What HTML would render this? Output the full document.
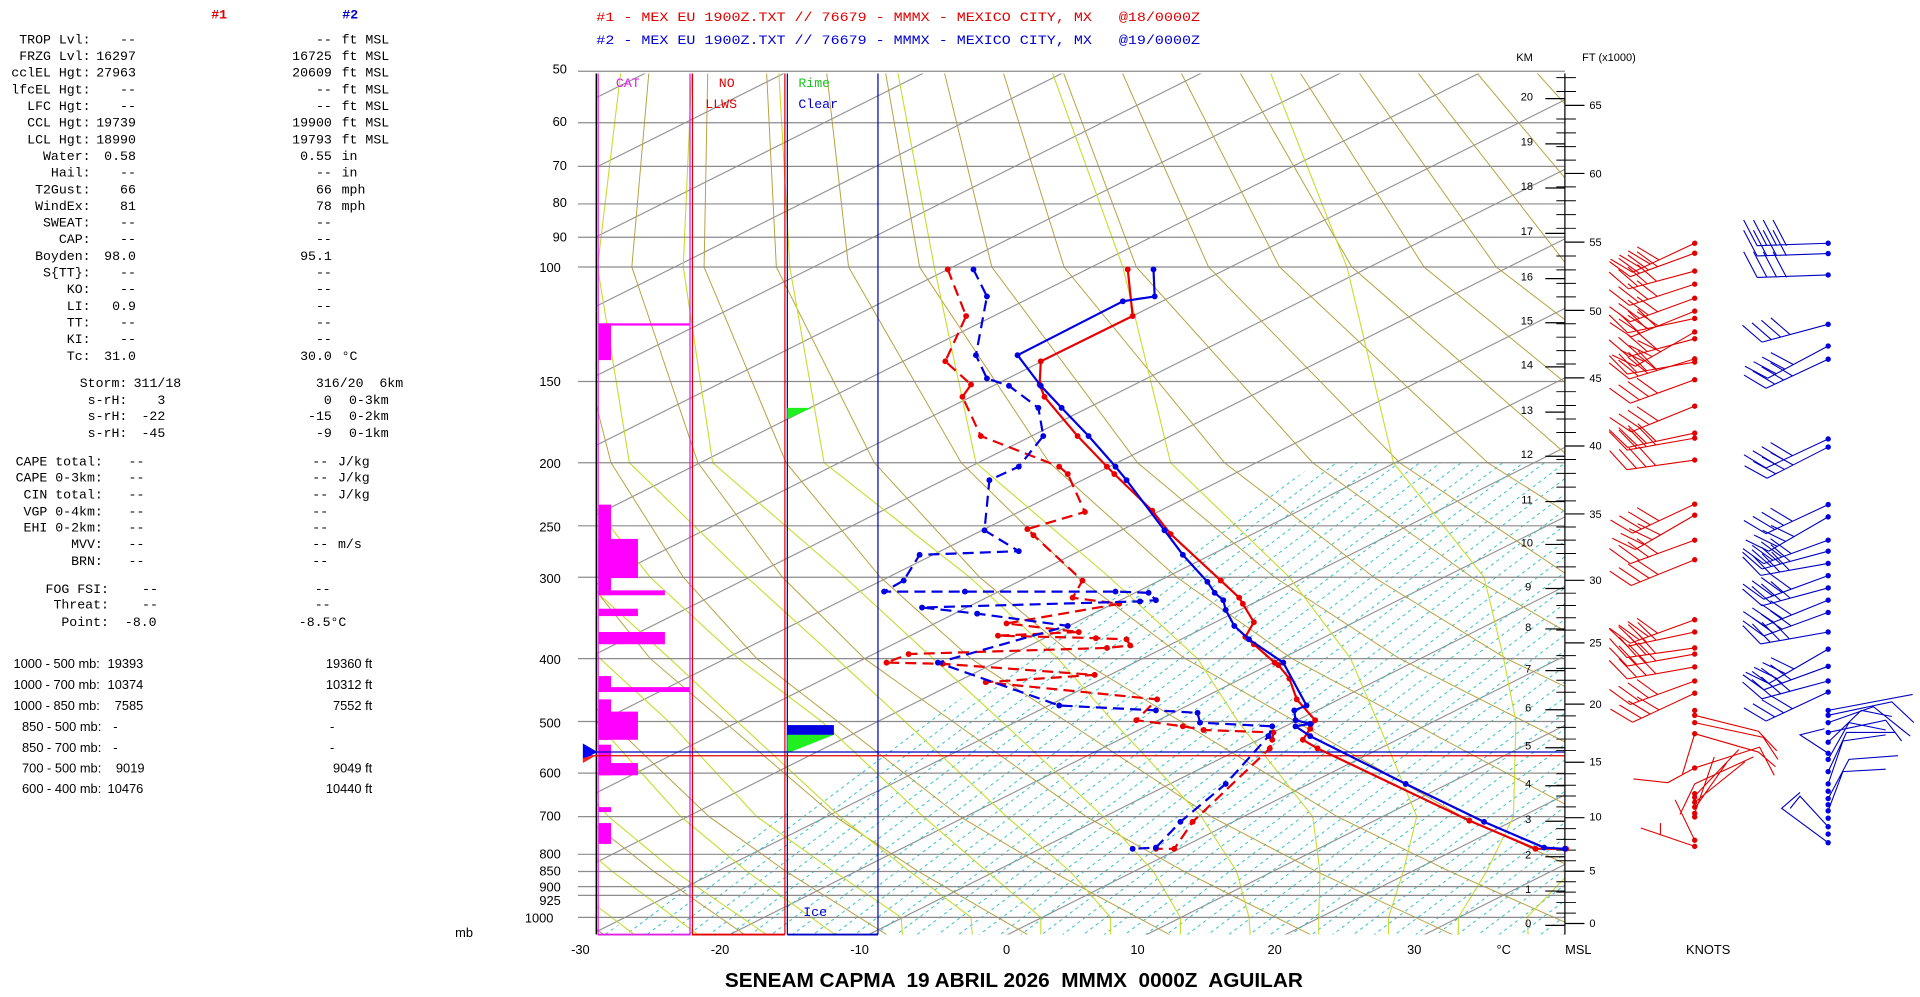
<!DOCTYPE html>
<html><head><meta charset="utf-8"><style>
html,body{margin:0;padding:0;background:#fff;overflow:hidden}
svg{display:block}
.m{font-family:"Liberation Mono",monospace;font-size:10.8px}
.s{font-family:"Liberation Sans",sans-serif;font-size:10.5px}
</style></head><body>
<svg xmlns="http://www.w3.org/2000/svg" width="1920" height="997" viewBox="0 0 1568 814" preserveAspectRatio="none">
<defs>
<clipPath id="cp"><rect x="487" y="60" width="791" height="703"/></clipPath>
<clipPath id="cw"><polygon points="493,763 1076,378 1278,378 1278,763"/></clipPath>
<pattern id="iso" patternUnits="userSpaceOnUse" width="20" height="50.76" patternTransform="translate(822,763) rotate(-26.565)"><rect x="0" y="0" width="20" height="0.9" fill="#8c8c8c"/></pattern>
<pattern id="mix" patternUnits="userSpaceOnUse" width="5.5" height="10.2" patternTransform="translate(935,763) rotate(-36.94)"><rect x="0" y="0" width="2.6" height="0.8" fill="#30c0c8"/></pattern>
<marker id="mr" markerUnits="userSpaceOnUse" markerWidth="6" markerHeight="6" refX="3" refY="3"><circle cx="3" cy="3" r="2.4" fill="#e80000"/></marker>
<marker id="mb" markerUnits="userSpaceOnUse" markerWidth="6" markerHeight="6" refX="3" refY="3"><circle cx="3" cy="3" r="2.4" fill="#0000e0"/></marker>
<g id="rb"><path d="M0,0 L-52.6,19.2 M-52.6,19.2 l-17,-12.3 M-45.1,16.5 l-17,-12.3 M-37.6,13.8 l-17,-12.3 M-30.1,11.1 l-17,-12.3" stroke="#e00000" stroke-width="0.9" fill="none"/><circle r="2.2" fill="#e00000"/></g>
<g id="bs"><path d="M0,0 L-52.6,19.2 M-52.6,19.2 l-17,-12.3 M-45.1,16.5 l-17,-12.3 M-37.6,13.8 l-17,-12.3 M-30.1,11.1 l-17,-12.3" stroke="#0000c0" stroke-width="0.9" fill="none"/><circle r="2.2" fill="#0000e0"/></g>
<g id="bh"><path d="M0,0 L-58,2 M-58,2 l-11,-21 M-50,2 l-11,-21 M-42,2 l-11,-21 M-34,2 l-11,-21" stroke="#0000c0" stroke-width="0.9" fill="none"/><circle r="2.2" fill="#0000e0"/></g>
</defs>
<rect width="1568" height="814" fill="#fff"/>

<g clip-path="url(#cp)">
<rect x="487" y="60" width="791" height="703" fill="url(#iso)"/>
<rect x="487" y="378" width="791" height="385" fill="url(#mix)" clip-path="url(#cw)"/>
<g fill="none" stroke="#b8a040" stroke-width="0.8">
<polyline points="493,763 425,711.5 374,666.7 269,537.7 236,471.3 212,377.8 222,218 289,58.2"/>
<polyline points="608,763 534,711.5 477,666.7 356,537.7 317,471.3 284,377.8 281,218 337,58.2"/>
<polyline points="724,763 642,711.5 579,666.7 444,537.7 397,471.3 355,377.8 340,218 385,58.2"/>
<polyline points="839,763 750,711.5 682,666.7 531,537.7 478,471.3 427,377.8 399,218 434,58.2"/>
<polyline points="955,763 859,711.5 784,666.7 618,537.7 558,471.3 499,377.8 458,218 482,58.2"/>
<polyline points="1070,763 967,711.5 887,666.7 706,537.7 639,471.3 570,377.8 516,218 530,58.2"/>
<polyline points="1186,763 1075,711.5 989,666.7 793,537.7 719,471.3 642,377.8 575,218 578,58.2"/>
<polyline points="1301,763 1184,711.5 1092,666.7 880,537.7 800,471.3 714,377.8 634,218 626,58.2"/>
<polyline points="1417,763 1292,711.5 1194,666.7 968,537.7 880,471.3 785,377.8 693,218 675,58.2"/>
<polyline points="1532,763 1400,711.5 1297,666.7 1055,537.7 961,471.3 857,377.8 751,218 723,58.2"/>
<polyline points="1648,763 1509,711.5 1399,666.7 1143,537.7 1041,471.3 929,377.8 810,218 771,58.2"/>
<polyline points="1763,763 1617,711.5 1502,666.7 1230,537.7 1122,471.3 1000,377.8 869,218 819,58.2"/>
<polyline points="1879,763 1726,711.5 1604,666.7 1317,537.7 1202,471.3 1072,377.8 928,218 868,58.2"/>
<polyline points="1994,763 1834,711.5 1707,666.7 1405,537.7 1283,471.3 1143,377.8 987,218 916,58.2"/>
<polyline points="2110,763 1942,711.5 1809,666.7 1492,537.7 1363,471.3 1215,377.8 1045,218 964,58.2"/>
<polyline points="2225,763 2051,711.5 1912,666.7 1579,537.7 1444,471.3 1287,377.8 1104,218 1012,58.2"/>
<polyline points="2341,763 2159,711.5 2014,666.7 1667,537.7 1524,471.3 1358,377.8 1163,218 1061,58.2"/>
<polyline points="2456,763 2267,711.5 2117,666.7 1754,537.7 1605,471.3 1430,377.8 1222,218 1109,58.2"/>
<polyline points="2572,763 2376,711.5 2219,666.7 1841,537.7 1685,471.3 1502,377.8 1281,218 1157,58.2"/>
<polyline points="2687,763 2484,711.5 2322,666.7 1929,537.7 1766,471.3 1573,377.8 1339,218 1205,58.2"/>
<polyline points="2803,763 2593,711.5 2424,666.7 2016,537.7 1846,471.3 1645,377.8 1398,218 1254,58.2"/>
<polyline points="2918,763 2701,711.5 2527,666.7 2103,537.7 1927,471.3 1717,377.8 1457,218 1302,58.2"/>
</g>
<g fill="none" stroke="#c8dc30" stroke-width="0.9">
<polyline points="518,763 450,711.5 399,666.7 294,537.7 261,471.3 237,377.8"/>
<polyline points="570,763 500,711.5 448,666.7 338,537.7 302,471.3 272,377.8"/>
<polyline points="626,763 551,711.5 497,666.7 380,537.7 342,471.3 308,377.8"/>
<polyline points="682,763 610,711.5 556,666.7 440,537.7 398,471.3 355,377.8"/>
<polyline points="737,763 736,749 681,711.5 618,666.7 546,589 490,537.7 418,471.3 350,377.8 330,218 390,58.2"/>
<polyline points="794,763 793,749 743,711.5 686,666.7 602,589 547,537.7 474,471.3 412,377.8 387,218 424,58.2"/>
<polyline points="850,763 850,749 806,711.5 754,666.7 671,589 603,537.7 531,471.3 457,377.8 429,218 458,58.2"/>
<polyline points="907,763 907,749 874,711.5 822,666.7 739,589 683,537.7 610,471.3 514,377.8 488,218 507,58.2"/>
<polyline points="964,763 964,749 942,711.5 901,666.7 818,589 762,537.7 690,471.3 582,377.8 558,218 565,58.2"/>
<polyline points="1021,763 1020,749 1010,711.5 981,666.7 909,589 864,537.7 792,471.3 673,377.8 645,218 636,58.2"/>
<polyline points="1077,763 1077,749 1078,711.5 1072,666.7 1011,589 978,537.7 906,471.3 797,377.8 763,218 733,58.2"/>
<polyline points="1134,763 1134,749 1146,711.5 1157,666.7 1125,589 1103,537.7 1053,471.3 956,377.8 917,218 859,58.2"/>
<polyline points="1191,763 1191,749 1214,711.5 1236,666.7 1238,589 1228,537.7 1212,471.3 1138,377.8 1100,218 1037,58.2"/>
<polyline points="1248,763 1247,749 1283,711.5 1316,666.7"/>
</g>
</g>

<path d="M472,58.2H1278M472,100.2H1278M472,135.8H1278M472,166.5H1278M472,193.7H1278M472,218H1278M472,311.5H1278M472,377.8H1278M472,429.3H1278M472,471.3H1278M472,537.7H1278M472,589.1H1278M472,631.2H1278M472,666.7H1278M472,697.5H1278M472,711.5H1278M472,723.9H1278M472,731H1278M472,749H1278" stroke="#8c8c8c" stroke-width="1" fill="none"/>

<line x1="487" y1="60" x2="487" y2="763" stroke="#000" stroke-width="1.2"/>
<line x1="488.5" y1="60" x2="488.5" y2="763" stroke="#e020e0"/>
<line x1="563.5" y1="60" x2="563.5" y2="763" stroke="#e020e0"/>
<line x1="565.5" y1="60" x2="565.5" y2="763" stroke="#e00000"/>
<line x1="641" y1="60" x2="641" y2="763" stroke="#e00000"/>
<line x1="643" y1="60" x2="643" y2="763" stroke="#0000c0"/>
<line x1="717" y1="60" x2="717" y2="763" stroke="#0000c0"/>
<line x1="488" y1="763" x2="564" y2="763" stroke="#e020e0" stroke-width="1.5"/>
<line x1="565" y1="763" x2="641" y2="763" stroke="#e00000" stroke-width="1.5"/>
<line x1="643" y1="763" x2="717" y2="763" stroke="#0000c0" stroke-width="1.5"/>
<g fill="#ff00ff">
<rect x="489" y="264" width="74" height="1.8"/><rect x="489" y="264" width="10" height="30"/>
<rect x="489" y="412" width="10" height="74"/><rect x="489" y="440" width="32" height="32"/>
<rect x="489" y="482" width="54" height="4"/><rect x="489" y="497" width="32" height="6"/>
<rect x="489" y="516" width="54" height="10"/><rect x="489" y="552" width="10" height="13"/>
<rect x="489" y="561" width="74" height="4"/><rect x="489" y="571" width="10" height="33"/>
<rect x="489" y="581" width="32" height="23"/><rect x="489" y="608" width="10" height="25"/>
<rect x="489" y="623" width="32" height="10"/><rect x="489" y="659" width="10" height="4"/>
<rect x="489" y="672" width="10" height="17"/>
</g>
<polygon points="643,333 663,333 643,342" fill="#20f020"/>
<rect x="643" y="592" width="38" height="8" fill="#0000e0"/>
<polygon points="643,600 681,600 643,615" fill="#20f020"/>
<line x1="478" y1="614" x2="1278" y2="614" stroke="#0000c0"/>
<line x1="478" y1="617" x2="1278" y2="617" stroke="#e00000"/>
<polygon points="476,607 476,620 488,614" fill="#0000ff"/>
<polygon points="476,623 488,616 476,619" fill="#ff2020"/>

<line x1="1278" y1="60" x2="1278" y2="763" stroke="#000"/>
<path d="M1262,755.5h16M1262,727.5h16M1262,699.5h16M1262,670.5h16M1262,641.5h16M1262,610.5h16M1262,579.5h16M1262,547.5h16M1262,513.5h16M1262,480.5h16M1262,444.5h16M1262,409.5h16M1262,372.5h16M1262,336.5h16M1262,299.5h16M1262,263.5h16M1262,227.5h16M1262,190.5h16M1262,153.5h16M1262,117.5h16M1262,80.5h16" stroke="#000" fill="none"/>
<path d="M1278,754h16M1278,711.3h16M1278,667.6h16M1278,622.3h16M1278,574.9h16M1278,524.9h16M1278,473.8h16M1278,419.6h16M1278,364.1h16M1278,308.5h16M1278,253.4h16M1278,197.7h16M1278,141.6h16M1278,86h16" stroke="#000" fill="none"/>
<path d="M1271,745.5h16M1271,736.9h16M1271,728.4h16M1271,719.9h16M1271,702.8h16M1271,694.1h16M1271,685.3h16M1271,676.5h16M1271,658.8h16M1271,649.9h16M1271,641.1h16M1271,631.7h16M1271,612.8h16M1271,603.4h16M1271,593.9h16M1271,584.5h16M1271,565.2h16M1271,555.4h16M1271,545.7h16M1271,535.3h16M1271,514.5h16M1271,504.4h16M1271,494.4h16M1271,484.3h16M1271,462.8h16M1271,451.9h16M1271,441h16M1271,430.3h16M1271,408.9h16M1271,397.7h16M1271,386.5h16M1271,375.2h16M1271,353.1h16M1271,342.1h16M1271,331.1h16M1271,319.8h16M1271,297.2h16M1271,286.3h16M1271,275.3h16M1271,264.3h16M1271,242.4h16M1271,231.4h16M1271,220.3h16M1271,209h16M1271,186.4h16M1271,175.2h16M1271,163.9h16M1271,152.6h16M1271,130.7h16M1271,119.7h16M1271,108.5h16M1271,97.2h16M1271,74.7h16M1271,63.4h16" stroke="#000" stroke-width="0.8" fill="none"/>
<g font-family="'Liberation Sans',sans-serif" font-size="9" text-anchor="middle" fill="#000">
<text x="1248" y="757">0</text><text x="1248" y="729">1</text><text x="1248" y="701">2</text><text x="1248" y="672">3</text><text x="1248" y="643">4</text><text x="1248" y="612">5</text><text x="1248" y="581">6</text><text x="1248" y="549">7</text><text x="1248" y="515">8</text><text x="1248" y="482">9</text><text x="1247" y="446">10</text><text x="1247" y="411">11</text><text x="1247" y="374">12</text><text x="1247" y="338">13</text><text x="1247" y="301">14</text><text x="1247" y="265">15</text><text x="1247" y="229">16</text><text x="1247" y="192">17</text><text x="1247" y="155">18</text><text x="1247" y="119">19</text><text x="1247" y="82">20</text>
</g>
<g font-family="'Liberation Sans',sans-serif" font-size="9" fill="#000">
<text x="1298" y="757">0</text><text x="1298" y="714">5</text><text x="1298" y="670">10</text><text x="1298" y="625">15</text><text x="1298" y="578">20</text><text x="1298" y="528">25</text><text x="1298" y="477">30</text><text x="1298" y="423">35</text><text x="1298" y="367">40</text><text x="1298" y="312">45</text><text x="1298" y="257">50</text><text x="1298" y="201">55</text><text x="1298" y="145">60</text><text x="1298" y="89">65</text>
</g>

<g fill="none" stroke-width="1.8" stroke-linejoin="round">
<polyline stroke="#e80000" stroke-dasharray="9,5" marker-start="url(#mr)" marker-mid="url(#mr)" marker-end="url(#mr)" points="774,220 789,258 772,295 793,314 786,324 801,356 865,381 872,387 886,418 839,432 844,437 884,474 876,488 914,493 822,509 881,516 815,519 895,521 920,522 923,527 904,529 742,534 724,541 770,542 894,551 805,557 945,571 928,588 966,593 983,596 1040,598 1039,604 1037,611 974,671 959,693 944,693"/>
<polyline stroke="#0000e0" stroke-dasharray="9,5" marker-start="url(#mb)" marker-mid="url(#mb)" marker-end="url(#mb)" points="795,220 806,242 797,290 806,309 824,315 848,333 852,356 832,381 808,392 804,433 832,450 751,453 738,474 722,483 788,483 911,483 938,484 944,490 931,491 753,496 798,501 872,511 766,541 865,576 944,580 978,582 980,590 1039,593 1036,601 1001,640 964,671 944,692 925,693"/>
<polyline stroke="#e80000" marker-start="url(#mr)" marker-mid="url(#mr)" marker-end="url(#mr)" points="921,220 925,258 850,295 849,314 853,324 880,356 904,381 910,387 941,417 956,436 997,474 1012,488 1015,493 1024,508 1017,520 1024,526 1041,541 1044,543 1053,554 1059,571 1074,588 1070,595 1064,604 1076,611 1200,670 1254,693 1279,693"/>
<polyline stroke="#0000e0" marker-start="url(#mb)" marker-mid="url(#mb)" marker-end="url(#mb)" points="942,220 943,242 917,246 831,290 850,315 867,333 889,356 911,381 920,392 951,433 966,453 986,475 992,484 999,490 1001,498 1008,511 1020,522 1048,541 1067,576 1057,580 1058,588 1070,591 1058,593 1070,601 1148,640 1212,671 1261,692 1278,693"/>
</g>

<use href="#rb" transform="translate(1384,198.6) rotate(-5)"/><use href="#rb" transform="translate(1384,206.7)"/><use href="#rb" transform="translate(1384,221.3) rotate(5)"/><use href="#rb" transform="translate(1384,232) rotate(2)"/><use href="#rb" transform="translate(1384,243.5)"/><use href="#rb" transform="translate(1384,254) rotate(-2)"/><use href="#rb" transform="translate(1384,260) rotate(8)"/><use href="#rb" transform="translate(1384,271) rotate(-10)"/><use href="#rb" transform="translate(1384,276.6) rotate(5)"/><use href="#rb" transform="translate(1384,293) rotate(3)"/><use href="#rb" transform="translate(1384,295.6) rotate(10)"/><use href="#rb" transform="translate(1384,310)"/><use href="#rb" transform="translate(1384,331.6) rotate(-2)"/><use href="#rb" transform="translate(1384,353.6) rotate(8)"/><use href="#rb" transform="translate(1384,357.7) rotate(10)"/><use href="#rb" transform="translate(1384,375.6) rotate(12)"/><use href="#rb" transform="translate(1384,411.6) rotate(-5)"/><use href="#rb" transform="translate(1384,420.6) rotate(-10)"/><use href="#rb" transform="translate(1384,441)"/><use href="#rb" transform="translate(1384,457) rotate(-2)"/><use href="#rb" transform="translate(1384,506)"/><use href="#rb" transform="translate(1384,516) rotate(8)"/><use href="#rb" transform="translate(1384,529) rotate(12)"/><use href="#rb" transform="translate(1384,534) rotate(10)"/><use href="#rb" transform="translate(1384,544.5) rotate(10)"/><use href="#rb" transform="translate(1384,556)"/><use href="#rb" transform="translate(1384,566) rotate(-5)"/>
<use href="#bh" transform="translate(1493,198.6)"/><use href="#bh" transform="translate(1493,207)"/><use href="#bh" transform="translate(1493,224.5)"/>
<use href="#bs" transform="translate(1493,264.8) rotate(5)"/><use href="#bs" transform="translate(1493,282.5) rotate(-8)"/><use href="#bs" transform="translate(1493,293.3) rotate(-5)"/><use href="#bs" transform="translate(1493,358.4) rotate(-5)"/><use href="#bs" transform="translate(1493,365) rotate(-7)"/><use href="#bs" transform="translate(1493,412) rotate(-5)"/><use href="#bs" transform="translate(1493,422) rotate(-10)"/><use href="#bs" transform="translate(1493,441)"/><use href="#bs" transform="translate(1493,450) rotate(5)"/><use href="#bs" transform="translate(1493,460) rotate(10)"/><use href="#bs" transform="translate(1493,470)"/><use href="#bs" transform="translate(1493,480) rotate(5)"/><use href="#bs" transform="translate(1493,490) rotate(-2)"/><use href="#bs" transform="translate(1493,500)"/><use href="#bs" transform="translate(1493,516) rotate(10)"/><use href="#bs" transform="translate(1493,530) rotate(-10)"/><use href="#bs" transform="translate(1493,544)"/><use href="#bs" transform="translate(1493,556) rotate(5)"/><use href="#bs" transform="translate(1493,565) rotate(-5)"/>
<path d="M1384,584 L1436,597 L1451,613 M1384,590 L1440,602 L1452,620 M1384,599 L1436,614 l14,12 M1384,627 L1437,610 L1449,633 M1384,640 L1432,618 M1384,650 L1420,612 M1384,655 L1425,622 M1384,660 L1410,623 M1384,664 L1400,618 M1384,627 L1362,639 L1334,636 M1384,599 L1374,632 M1384,691 L1340,676 M1356,682 l0,-10 M1384,686 L1368,653 M1384,640 L1372,665" stroke="#e00000" stroke-width="0.9" fill="none"/>
<g fill="#e00000"><circle cx="1384" cy="580" r="2.2"/><circle cx="1384" cy="584" r="2.2"/><circle cx="1384" cy="590" r="2.2"/><circle cx="1384" cy="599" r="2.2"/><circle cx="1384" cy="627" r="2.2"/><circle cx="1384" cy="648" r="2.2"/><circle cx="1384" cy="651" r="2.2"/><circle cx="1384" cy="655" r="2.2"/><circle cx="1384" cy="659" r="2.2"/><circle cx="1384" cy="664" r="2.2"/><circle cx="1384" cy="667" r="2.2"/><circle cx="1384" cy="686" r="2.2"/><circle cx="1384" cy="691" r="2.2"/></g>
<path d="M1493,580 L1562,567 M1493,584 L1545,573 L1563,590 M1493,590 L1530,577 L1560,601 M1493,598 L1540,588 L1553,605 M1493,606 L1520,580 L1545,585 M1493,620 L1510,590 L1540,596 M1493,630 L1508,598 L1548,598 M1493,640 L1505,605 L1540,600 M1493,652 L1510,620 L1550,617 M1493,662 L1505,630 L1540,628 M1493,675 L1470,650 L1462,660 M1493,688 L1455,660 L1470,647 M1493,615 L1470,600 L1490,595" stroke="#0000c0" stroke-width="0.9" fill="none"/>
<g fill="#0000e0"><circle cx="1493" cy="580" r="2.2"/><circle cx="1493" cy="584" r="2.2"/><circle cx="1493" cy="590" r="2.2"/><circle cx="1493" cy="598" r="2.2"/><circle cx="1493" cy="606" r="2.2"/><circle cx="1493" cy="615" r="2.2"/><circle cx="1493" cy="620" r="2.2"/><circle cx="1493" cy="630" r="2.2"/><circle cx="1493" cy="640" r="2.2"/><circle cx="1493" cy="646" r="2.2"/><circle cx="1493" cy="652" r="2.2"/><circle cx="1493" cy="657" r="2.2"/><circle cx="1493" cy="662" r="2.2"/><circle cx="1493" cy="668" r="2.2"/><circle cx="1493" cy="675" r="2.2"/><circle cx="1493" cy="681" r="2.2"/><circle cx="1493" cy="688" r="2.2"/></g>

<text x="179" y="15" class="m" fill="#e00000" font-weight="bold" text-anchor="middle">#1</text>
<text x="286" y="15" class="m" fill="#0000d0" font-weight="bold" text-anchor="middle">#2</text>
<text x="487" y="17" class="m" fill="#e00000" font-size="11" textLength="493" lengthAdjust="spacingAndGlyphs" xml:space="preserve">#1 - MEX EU 1900Z.TXT // 76679 - MMMX - MEXICO CITY, MX   @18/0000Z</text>
<text x="487" y="36" class="m" fill="#0000d0" font-size="11" textLength="493" lengthAdjust="spacingAndGlyphs" xml:space="preserve">#2 - MEX EU 1900Z.TXT // 76679 - MMMX - MEXICO CITY, MX   @19/0000Z</text>

<g class="m" fill="#000">
<g text-anchor="end">
<text x="74" y="35.4">TROP Lvl:</text><text x="74" y="49">FRZG Lvl:</text><text x="74" y="62.6">cclEL Hgt:</text><text x="74" y="76.2">lfcEL Hgt:</text><text x="74" y="89.8">LFC Hgt:</text><text x="74" y="103.4">CCL Hgt:</text><text x="74" y="117">LCL Hgt:</text><text x="74" y="130.6">Water:</text><text x="74" y="144.2">Hail:</text><text x="74" y="157.8">T2Gust:</text><text x="74" y="171.4">WindEx:</text><text x="74" y="185">SWEAT:</text><text x="74" y="198.6">CAP:</text><text x="74" y="212.2">Boyden:</text><text x="74" y="225.8">S{TT}:</text><text x="74" y="239.4">KO:</text><text x="74" y="253">LI:</text><text x="74" y="266.6">TT:</text><text x="74" y="280.2">KI:</text><text x="74" y="293.8">Tc:</text>
<text x="111" y="35.4">--</text><text x="111" y="49">16297</text><text x="111" y="62.6">27963</text><text x="111" y="76.2">--</text><text x="111" y="89.8">--</text><text x="111" y="103.4">19739</text><text x="111" y="117">18990</text><text x="111" y="130.6">0.58</text><text x="111" y="144.2">--</text><text x="111" y="157.8">66</text><text x="111" y="171.4">81</text><text x="111" y="185">--</text><text x="111" y="198.6">--</text><text x="111" y="212.2">98.0</text><text x="111" y="225.8">--</text><text x="111" y="239.4">--</text><text x="111" y="253">0.9</text><text x="111" y="266.6">--</text><text x="111" y="280.2">--</text><text x="111" y="293.8">31.0</text>
<text x="271" y="35.4">--</text><text x="271" y="49">16725</text><text x="271" y="62.6">20609</text><text x="271" y="76.2">--</text><text x="271" y="89.8">--</text><text x="271" y="103.4">19900</text><text x="271" y="117">19793</text><text x="271" y="130.6">0.55</text><text x="271" y="144.2">--</text><text x="271" y="157.8">66</text><text x="271" y="171.4">78</text><text x="271" y="185">--</text><text x="271" y="198.6">--</text><text x="271" y="212.2">95.1</text><text x="271" y="225.8">--</text><text x="271" y="239.4">--</text><text x="271" y="253">--</text><text x="271" y="266.6">--</text><text x="271" y="280.2">--</text><text x="271" y="293.8">30.0</text>
<text x="104" y="316">Storm:</text><text x="104" y="330">s-rH:</text><text x="104" y="343">s-rH:</text><text x="104" y="357">s-rH:</text>
<text x="148" y="316">311/18</text><text x="135" y="330">3</text><text x="135" y="343">-22</text><text x="135" y="357">-45</text>
<text x="271" y="330">0</text><text x="271" y="343">-15</text><text x="271" y="357">-9</text>
<text x="84" y="380">CAPE total:</text><text x="84" y="393">CAPE 0-3km:</text><text x="84" y="407">CIN total:</text><text x="84" y="421">VGP 0-4km:</text><text x="84" y="434">EHI 0-2km:</text><text x="84" y="447.5">MVV:</text><text x="84" y="461.5">BRN:</text>
<text x="268" y="380">--</text><text x="268" y="393">--</text><text x="268" y="407">--</text><text x="268" y="421">--</text><text x="268" y="434">--</text><text x="268" y="447.5">--</text><text x="268" y="461.5">--</text>
<text x="89" y="484">FOG FSI:</text><text x="89" y="497">Threat:</text><text x="89" y="511">Point:</text>
</g>
<text x="279" y="35.4">ft MSL</text><text x="279" y="49">ft MSL</text><text x="279" y="62.6">ft MSL</text><text x="279" y="76.2">ft MSL</text><text x="279" y="89.8">ft MSL</text><text x="279" y="103.4">ft MSL</text><text x="279" y="117">ft MSL</text><text x="279" y="130.6">in</text><text x="279" y="144.2">in</text><text x="279" y="157.8">mph</text><text x="279" y="171.4">mph</text><text x="279" y="293.8">°C</text>
<text x="258" y="316" xml:space="preserve">316/20  6km</text>
<text x="285" y="330">0-3km</text><text x="285" y="343">0-2km</text><text x="285" y="357">0-1km</text>
<text x="105" y="380">--</text><text x="105" y="393">--</text><text x="105" y="407">--</text><text x="105" y="421">--</text><text x="105" y="434">--</text><text x="105" y="447.5">--</text><text x="105" y="461.5">--</text>
<text x="276" y="380">J/kg</text><text x="276" y="393">J/kg</text><text x="276" y="407">J/kg</text><text x="276" y="447.5">m/s</text>
<text x="116" y="484">--</text><text x="116" y="497">--</text><text x="102" y="511">-8.0</text>
<text x="257" y="484">--</text><text x="257" y="497">--</text><text x="244" y="511">-8.5°C</text>
</g>
<g class="s" fill="#000">
<text x="11" y="545.5">1000 - 500 mb:</text><text x="11" y="562.7">1000 - 700 mb:</text><text x="11" y="579.8">1000 - 850 mb:</text><text x="18" y="597">850 - 500 mb:</text><text x="18" y="614">850 - 700 mb:</text><text x="18" y="630.7">700 - 500 mb:</text><text x="18" y="647.6">600 - 400 mb:</text>
<g text-anchor="end"><text x="117" y="545.5">19393</text><text x="117" y="562.7">10374</text><text x="117" y="579.8">7585</text><text x="96" y="597">-</text><text x="96" y="614">-</text><text x="118" y="630.7">9019</text><text x="117" y="647.6">10476</text>
<text x="304" y="545.5">19360 ft</text><text x="304" y="562.7">10312 ft</text><text x="304" y="579.8">7552 ft</text><text x="273" y="597">-</text><text x="273" y="614">-</text><text x="304" y="630.7">9049 ft</text><text x="304" y="647.6">10440 ft</text></g>
</g>

<g class="s" fill="#000" text-anchor="end" font-size="10.5">
<text x="463" y="60">50</text><text x="463" y="103">60</text><text x="463" y="139">70</text><text x="463" y="169">80</text><text x="463" y="197">90</text><text x="458" y="222">100</text><text x="458" y="315">150</text><text x="458" y="382">200</text><text x="458" y="434">250</text><text x="458" y="476">300</text><text x="458" y="542">400</text><text x="458" y="594">500</text><text x="458" y="635">600</text><text x="458" y="670">700</text><text x="458" y="701">800</text><text x="458" y="715">850</text><text x="458" y="728">900</text><text x="458" y="739">925</text><text x="452" y="753">1000</text>
</g>
<g class="s" fill="#000" text-anchor="middle" font-size="10.5">
<text x="379" y="765">mb</text>
<text x="474" y="779">-30</text><text x="588" y="779">-20</text><text x="702" y="779">-10</text><text x="822" y="779">0</text><text x="929" y="779">10</text><text x="1041" y="779">20</text><text x="1155" y="779">30</text><text x="1228" y="779">°C</text><text x="1289" y="779">MSL</text><text x="1395" y="779">KNOTS</text>
<text x="1245" y="50" font-size="9">KM</text><text x="1314" y="50" font-size="9">FT (x1000)</text>
</g>
<text x="828" y="806" font-family="'Liberation Sans',sans-serif" font-weight="bold" font-size="16.5" text-anchor="middle" textLength="472" lengthAdjust="spacingAndGlyphs" xml:space="preserve">SENEAM CAPMA  19 ABRIL 2026  MMMX  0000Z  AGUILAR</text>

<g class="m" font-size="10">
<text x="503" y="71" fill="#e020e0">CAT</text>
<text x="587" y="71" fill="#e00000">NO</text><text x="576" y="88" fill="#e00000">LLWS</text>
<text x="652" y="71" fill="#20c020">Rime</text><text x="652" y="88" fill="#0000d0">Clear</text>
<text x="656" y="748" fill="#0000d0">Ice</text>
</g>
</svg>
</body></html>
